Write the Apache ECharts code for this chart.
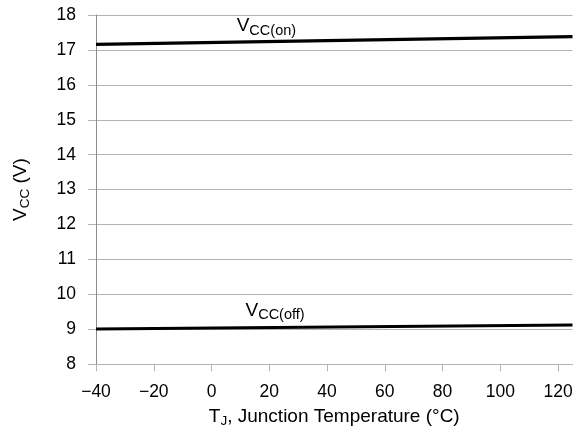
<!DOCTYPE html>
<html>
<head>
<meta charset="utf-8">
<script src="https://cdn.jsdelivr.net/npm/echarts@6/dist/echarts.min.js"></script>
<style>
  html, body { margin: 0; padding: 0; background: #fff; }
  #chart { width: 579px; height: 436px; }
</style>
</head>
<body>
<div id="chart"></div>
<script>
// Supply voltage thresholds versus junction temperature
const temps = [-40, 125];                 // T_J (°C), line end points
const vccOn = [17.16, 17.38];             // V_CC(on) (V)
const vccOff = [9.01, 9.125];             // V_CC(off) (V)
const xTicks = [-40, -20, 0, 20, 40, 60, 80, 100, 120];
const yTicks = [8, 9, 10, 11, 12, 13, 14, 15, 16, 17, 18];
// label anchors [T_J, V_CC]
const onLabelAt = [19, 17.25];
const offLabelAt = [22, 9.06];

const FONT = '"Liberation Sans", Arial, Helvetica, sans-serif';
const gridColor = '#b4b4b4';

const subRich = {
  v: { fontFamily: FONT, fontSize: 19, color: '#000', lineHeight: 22 },
  s: { fontFamily: FONT, fontSize: 14.5, color: '#000', padding: [9, 0, 0, 0] }
};

function seriesOf(name, ys, labelAt, subText, dist) {
  return {
    name: name,
    type: 'line',
    data: temps.map((t, i) => [t, ys[i]]),
    showSymbol: false,
    lineStyle: { color: '#000', width: 3.2 },
    silent: true,
    markPoint: {
      symbol: 'circle',
      symbolSize: 0,
      silent: true,
      data: [{ coord: labelAt }],
      label: {
        show: true,
        position: 'top',
        distance: dist,
        formatter: '{v|V}{s|' + subText + '}',
        rich: subRich
      }
    }
  };
}

const chart = echarts.init(document.getElementById('chart'), null, { renderer: 'canvas' });
chart.setOption({
  animation: false,
  backgroundColor: '#fff',
  grid: { left: 96, right: 6.5, top: 15, bottom: 71.7, containLabel: false },
  xAxis: {
    type: 'value',
    min: -40,
    max: 125,
    interval: 20,
    name: '{v|T}{s|J}{v|, Junction Temperature (°C)}',
    nameLocation: 'middle',
    nameGap: 41,
    nameTextStyle: {
      rich: {
        v: { fontFamily: FONT, fontSize: 19, color: '#000', lineHeight: 22 },
        s: { fontFamily: FONT, fontSize: 13.5, color: '#000', padding: [9, 0, 0, 0] }
      }
    },
    axisLine: { show: true, onZero: false, lineStyle: { color: gridColor, width: 1 } },
    axisTick: { show: true, length: 7, customValues: xTicks, lineStyle: { color: gridColor } },
    axisLabel: {
      customValues: xTicks,
      margin: 19,
      fontFamily: FONT, fontSize: 17.5, color: '#000',
      formatter: v => (v < 0 ? '\u2212' + Math.abs(v) : String(v))
    },
    splitLine: { show: false }
  },
  yAxis: {
    type: 'value',
    min: 8,
    max: 18,
    interval: 1,
    name: '{v|V}{s|CC}{v| (V)}',
    nameLocation: 'middle',
    nameGap: 64,
    nameRotate: 90,
    nameTextStyle: {
      rich: {
        v: { fontFamily: FONT, fontSize: 19, color: '#000', lineHeight: 22 },
        s: { fontFamily: FONT, fontSize: 13.5, color: '#000', padding: [9, 0, 0, 0] }
      }
    },
    axisLine: { show: true, onZero: false, lineStyle: { color: '#8c8c8c', width: 1 } },
    axisTick: { show: true, length: 8, lineStyle: { color: gridColor } },
    axisLabel: {
      margin: 20,
      fontFamily: FONT, fontSize: 17.5, color: '#000',
      customValues: yTicks
    },
    splitLine: { show: true, lineStyle: { color: gridColor, width: 1 } }
  },
  series: [
    seriesOf('VCC(on)', vccOn, onLabelAt, 'CC(on)', 3),
    seriesOf('VCC(off)', vccOff, offLabelAt, 'CC(off)', 5)
  ]
});
</script>
</body>
</html>
